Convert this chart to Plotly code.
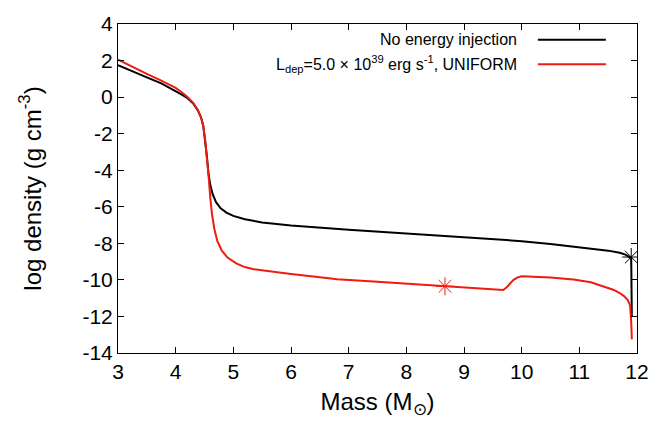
import plotly.graph_objects as go

# Black: no energy injection
mass_black = [3.0, 3.25, 3.5, 3.75, 4.0, 4.1, 4.2, 4.3, 4.38, 4.44, 4.48, 4.51, 4.54, 4.57, 4.6,
              4.64, 4.7, 4.78, 4.88, 5.0, 5.2, 5.5, 6.0, 7.0, 8.0, 9.0, 10.0, 10.5, 11.0, 11.5,
              11.7, 11.8, 11.87, 11.9, 11.91]
rho_black = [1.75, 1.4, 1.08, 0.75, 0.35, 0.15, -0.05, -0.33, -0.7, -1.1, -1.6, -2.3, -3.2, -4.2, -4.8,
             -5.3, -5.75, -6.08, -6.32, -6.5, -6.68, -6.86, -7.02, -7.25, -7.45, -7.65, -7.88, -8.03, -8.2, -8.4,
             -8.52, -8.62, -8.75, -8.85, -12.0]

# Red: L_dep = 5e39 erg/s, UNIFORM
mass_red = [3.0, 3.25, 3.5, 3.75, 4.0, 4.1, 4.2, 4.3, 4.38, 4.44, 4.48, 4.51, 4.54, 4.57, 4.6, 4.63,
            4.67, 4.72, 4.8, 4.9, 5.05, 5.2, 5.35, 5.7, 6.0, 6.5, 6.8, 7.5, 8.0, 8.67, 9.0, 9.5, 9.68,
            9.74, 9.8, 9.86, 9.93, 10.0, 10.5, 10.9, 11.2, 11.47, 11.6, 11.7, 11.78, 11.84, 11.88,
            11.9, 11.91]
rho_red = [2.05, 1.65, 1.27, 0.9, 0.5, 0.28, 0.02, -0.3, -0.68, -1.1, -1.6, -2.3, -3.2, -4.3, -5.5, -6.4,
           -7.2, -7.85, -8.4, -8.78, -9.1, -9.3, -9.42, -9.58, -9.68, -9.85, -9.97, -10.1, -10.2, -10.35,
           -10.42, -10.5, -10.55, -10.4, -10.18, -10.0, -9.86, -9.8, -9.87, -9.98, -10.13, -10.4, -10.55,
           -10.72, -10.9, -11.1, -11.4, -12.3, -13.25]

# star markers
star_black_x = [11.9]
star_black_y = [-8.75]
star_red_x = [8.67]
star_red_y = [-10.35]

xticks = [3, 4, 5, 6, 7, 8, 9, 10, 11, 12]
yticks = [4, 2, 0, -2, -4, -6, -8, -10, -12, -14]
ytick_text = ["4", "2", "0", "-2", "-4", "-6", "-8", "-10", "-12", "-14"]

legend_labels = ["No energy injection",
                 "L<sub>dep</sub>=5.0 × 10<sup>39</sup> erg s<sup>-1</sup>, UNIFORM"]
colors = ["#000000", "#ee1c0e"]

fig = go.Figure()
fig.add_trace(go.Scatter(x=mass_black, y=rho_black, mode="lines",
                         line=dict(color=colors[0], width=2), showlegend=False))
fig.add_trace(go.Scatter(x=mass_red, y=rho_red, mode="lines",
                         line=dict(color=colors[1], width=2), showlegend=False))
fig.add_trace(go.Scatter(x=star_black_x, y=star_black_y, mode="markers",
                         marker=dict(symbol="asterisk-open", size=15, color=colors[0],
                                     line=dict(color=colors[0], width=1)), showlegend=False))
fig.add_trace(go.Scatter(x=star_red_x, y=star_red_y, mode="markers",
                         marker=dict(symbol="asterisk-open", size=15, color=colors[1],
                                     line=dict(color=colors[1], width=1)), showlegend=False))

font = "Liberation Sans, Arial, sans-serif"
# legend drawn gnuplot-style: right-aligned text, sample line on the right
leg_y = [0.952, 0.878]
for lab, col, yy in zip(legend_labels, colors, leg_y):
    fig.add_annotation(x=0.772, y=yy, xref="paper", yref="paper", text=lab,
                       showarrow=False, xanchor="right", yanchor="middle",
                       font=dict(family=font, size=16, color="black"))
    fig.add_shape(type="line", xref="paper", yref="paper", x0=0.809, x1=0.94, y0=yy, y1=yy,
                  line=dict(color=col, width=2))

axis_common = dict(showline=True, linecolor="black", linewidth=1, mirror="ticks",
                   ticks="inside", ticklen=6, tickcolor="black", showgrid=False, zeroline=False,
                   tickfont=dict(family=font, size=21, color="black"))

fig.update_layout(
    width=671, height=439,
    margin=dict(l=118, r=34, t=17, b=86),
    plot_bgcolor="white", paper_bgcolor="white",
    font=dict(family=font, color="black"),
    xaxis=dict(range=[3, 12], tickvals=xticks,
               title=dict(text="Mass (M<sub>⊙</sub>)", font=dict(family=font, size=24), standoff=10),
               **axis_common),
    yaxis=dict(range=[-14, 4], tickvals=yticks, ticktext=ytick_text,
               title=dict(text="log density (g cm<sup>-3</sup>)", font=dict(family=font, size=24), standoff=34),
               **axis_common),
)

fig.write_html("out.html")
